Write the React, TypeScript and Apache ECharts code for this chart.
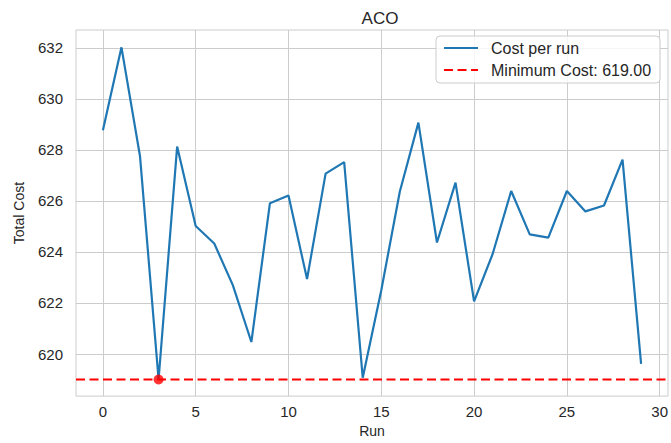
import React, { useEffect, useRef } from "react";
import * as echarts from "echarts";

const runs: number[] = Array.from({ length: 30 }, (_, i) => i);
const costs: number[] = [
  628.77, 632.02, 627.75, 619.0, 628.13, 625.02, 624.33, 622.7, 620.47, 625.91,
  626.21, 622.94, 627.07, 627.52, 619.07, 622.5, 626.37, 629.07, 624.37, 626.72,
  622.06, 623.92, 626.39, 624.69, 624.56, 626.39, 625.59, 625.82, 627.62, 619.61,
];
const minCost = 619.0;
const minRun = 3;
const xTicks: number[] = [0, 5, 10, 15, 20, 25, 30];
const yTicks: number[] = [620, 622, 624, 626, 628, 630, 632];
const xRange: number[] = [-1.45, 30.45];
const yRange: number[] = [618.35, 632.7];

const FONT = "'Liberation Sans', Arial, sans-serif";
const TXT = "#262626";

export default function App() {
  const ref = useRef<HTMLDivElement>(null);
  useEffect(() => {
    if (!ref.current) return;
    const chart = echarts.init(ref.current, null, { renderer: "svg" });
    chart.setOption({
      animation: false,
      backgroundColor: "#ffffff",
      textStyle: { fontFamily: FONT, color: TXT },
      title: {
        text: "ACO",
        left: 375,
        top: 5,
        textAlign: "center",
        textStyle: { fontFamily: FONT, fontSize: 17, fontWeight: "normal", color: TXT },
      },
      grid: { left: 76, top: 30, width: 598, height: 372, show: true, borderColor: "#cccccc", borderWidth: 1, backgroundColor: "transparent" },
      legend: {
        orient: "vertical",
        left: 436,
        top: 36,
        padding: [4, 9, 5, 7],
        itemWidth: 34,
        itemHeight: 14,
        itemGap: 6,
        itemStyle: { opacity: 0 },
        backgroundColor: "rgba(255,255,255,0.8)",
        borderColor: "#cccccc",
        borderWidth: 1,
        borderRadius: 4,
        textStyle: { fontFamily: FONT, fontSize: 16, color: TXT, padding: [0, 0, 0, 8] },
        data: ["Cost per run", "Minimum Cost: 619.00"],
      },
      xAxis: {
        type: "value",
        min: xRange[0],
        max: xRange[1],
        name: "Run",
        nameLocation: "middle",
        nameGap: 24,
        nameTextStyle: { fontFamily: FONT, fontSize: 14, color: TXT },
        axisLine: { show: false },
        axisTick: { show: false, customValues: xTicks },
        axisLabel: { customValues: xTicks, margin: 8, fontFamily: FONT, fontSize: 15, color: TXT },
        splitLine: { show: true, lineStyle: { color: "#cccccc", width: 1 } },
      },
      yAxis: {
        type: "value",
        min: yRange[0],
        max: yRange[1],
        name: "Total Cost",
        nameLocation: "middle",
        nameGap: 50,
        nameTextStyle: { fontFamily: FONT, fontSize: 14, color: TXT },
        axisLine: { show: false },
        axisTick: { show: false, customValues: yTicks },
        axisLabel: { customValues: yTicks, margin: 13, fontFamily: FONT, fontSize: 15, color: TXT },
        splitLine: { show: true, lineStyle: { color: "#cccccc", width: 1 } },
      },
      series: [
        {
          name: "Cost per run",
          type: "line",
          data: runs.map((r, i) => [r, costs[i]]),
          symbol: "none",
          lineStyle: { color: "#1f77b4", width: 2.2 },
          itemStyle: { color: "#1f77b4" },
          z: 3,
        },
        {
          name: "Minimum Cost: 619.00",
          type: "line",
          data: [[xRange[0], minCost], [xRange[1], minCost]],
          symbol: "none",
          lineStyle: { color: "#ff0000", width: 2, type: [9, 4.5] },
          itemStyle: { color: "#ff0000" },
          z: 4,
        },
        {
          name: "min point",
          type: "scatter",
          data: [[minRun, minCost]],
          symbolSize: 10,
          itemStyle: { color: "#ff0000" },
          z: 5,
        },
      ],
    });
    return () => chart.dispose();
  }, []);
  return <div ref={ref} style={{ width: 671, height: 443, position: "absolute", left: 0, top: 0 }} />;
}
